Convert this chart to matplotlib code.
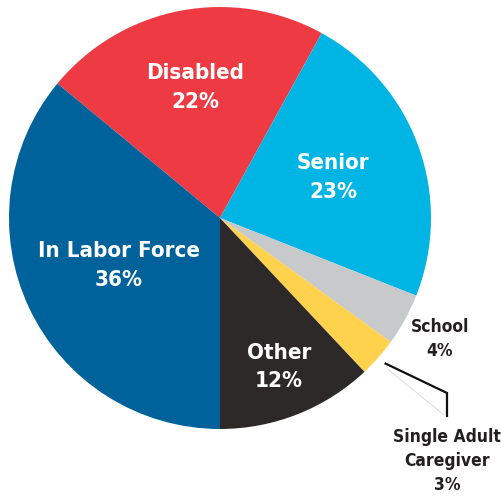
import numpy as np
import matplotlib
matplotlib.use("Agg")
from matplotlib import pyplot as plt

# datos del grafico
labels = ["Disabled", "Senior", "School", "Single Adult\nCaregiver", "Other", "In Labor Force"]
shares = [22, 23, 4, 3, 12, 36]
colors = ["#EE3B43", "#00B5E3", "#C8C9CB", "#FFD24E", "#2E2929", "#00629B"]

plt.rcParams['font.family'] = ['DejaVu Sans']
plt.rcParams['font.stretch'] = 'condensed'

W, H = 501, 499
fig = plt.figure(figsize=(W / 100, H / 100), dpi=100)
ax = fig.add_axes([0, 0, 1, 1])

cx, cy, R = 220, H - 218, 211
wedges, _ = ax.pie(shares, colors=colors, startangle=140.4, counterclock=False,
                   center=(cx, cy), radius=R, frame=True,
                   wedgeprops=dict(linewidth=0))

# distancia radial de cada etiqueta (fraccion del radio)
label_r = [0.63, 0.57, 1.19, None, 0.76, 0.53]
label_size = [16, 16, 12.5, 12.5, 16, 16]
label_color = ["white", "white", "#231F20", "#231F20", "white", "white"]

for w, lab, val, r, fs, col in zip(wedges, labels, shares, label_r, label_size, label_color):
    mid = np.deg2rad((w.theta1 + w.theta2) / 2)
    if r is None:
        # etiqueta con linea guia
        x0 = cx + 1.04 * R * np.cos(mid)
        y0 = cy + 1.04 * R * np.sin(mid)
        xt, yt = 447, H - 393
        ax.plot([x0, xt, xt], [y0, yt, yt - 24], color="#111111", lw=1.6,
                solid_joinstyle="miter", solid_capstyle="butt")
        ax.plot([x0 + 3, xt - 3], [y0 - 6, yt - 22], color="#d8d8d8", lw=0.6)
        ax.text(xt, H - 461, f"{lab}\n{val}%", ha="center", va="center",
                fontsize=fs, fontweight="bold", color=col, linespacing=1.45,
                fontstretch="condensed")
        continue
    x = cx + r * R * np.cos(mid)
    y = cy + r * R * np.sin(mid)
    ax.text(x, y, f"{lab}\n{val}%", ha="center", va="center",
            fontsize=fs, fontweight="bold", color=col,
            linespacing=1.45 if fs < 14 else 1.55, fontstretch="condensed")

ax.set_xlim(0, W)
ax.set_ylim(0, H)
ax.set_aspect("equal")
ax.axis("off")

fig.savefig("out.png", dpi=100, facecolor="white")
